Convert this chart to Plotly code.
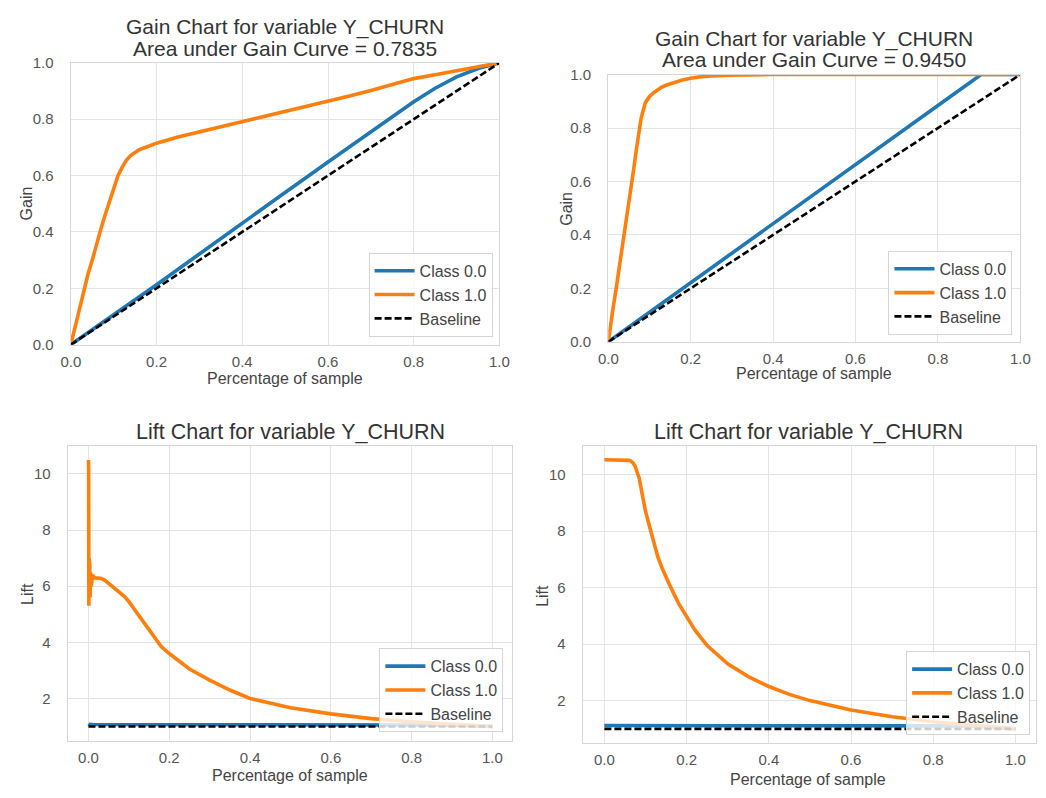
import plotly.graph_objects as go

W, H = 1046, 798

# ---------------- DATA ----------------
# Top-left gain chart (AUC 0.7835)
gainA_x0 = [0, 0.1, 0.2, 0.3, 0.4, 0.5, 0.6, 0.7, 0.8, 0.85, 0.9, 0.95, 1.0]
gainA_y0 = [0, 0.105, 0.213, 0.322, 0.432, 0.54, 0.648, 0.755, 0.862, 0.91, 0.95, 0.98, 1.0]
gainA_x1 = [0, 0.01, 0.02, 0.03, 0.04, 0.05, 0.06, 0.07, 0.08, 0.09, 0.10, 0.11, 0.12, 0.13,
            0.14, 0.15, 0.16, 0.18, 0.20, 0.25, 0.30, 0.35, 0.40, 0.45, 0.50, 0.55, 0.60,
            0.65, 0.70, 0.75, 0.80, 0.85, 0.90, 0.95, 1.0]
gainA_y1 = [0, 0.064, 0.127, 0.19, 0.25, 0.30, 0.36, 0.41, 0.46, 0.51, 0.56, 0.60, 0.63, 0.655,
            0.672, 0.683, 0.692, 0.703, 0.715, 0.737, 0.755, 0.772, 0.79, 0.808, 0.826, 0.843,
            0.862, 0.882, 0.902, 0.923, 0.944, 0.958, 0.973, 0.987, 1.0]

# Top-right gain chart (AUC 0.9450)
gainB_x0 = [0, 0.1, 0.2, 0.3, 0.4, 0.5, 0.6, 0.7, 0.8, 0.905, 0.95, 1.0]
gainB_y0 = [0, 0.11, 0.221, 0.332, 0.442, 0.553, 0.663, 0.774, 0.884, 1.0, 1.0, 1.0]
gainB_x1 = [0, 0.005, 0.01, 0.02, 0.03, 0.04, 0.05, 0.06, 0.07, 0.08, 0.09, 0.10, 0.11, 0.12,
            0.13, 0.14, 0.16, 0.18, 0.20, 0.22, 0.25, 0.30, 0.40, 0.60, 0.80, 1.0]
gainB_y1 = [0, 0.06, 0.11, 0.21, 0.31, 0.41, 0.52, 0.63, 0.74, 0.84, 0.895, 0.918, 0.932, 0.944,
            0.953, 0.96, 0.971, 0.98, 0.986, 0.991, 0.995, 0.998, 1.0, 1.0, 1.0, 1.0]

# Bottom-left lift chart
liftA_x0 = [0, 0.002, 0.01, 0.05, 0.2, 0.4, 0.6, 0.8, 0.9, 0.95, 1.0]
liftA_y0 = [1.1, 1.08, 1.07, 1.07, 1.07, 1.07, 1.07, 1.07, 1.05, 1.03, 1.0]
liftA_x1 = [0, 0.0005, 0.001, 0.0015, 0.002, 0.003, 0.004, 0.005, 0.007, 0.01, 0.015, 0.02,
            0.03, 0.04, 0.05, 0.06, 0.07, 0.08, 0.09, 0.10, 0.11, 0.12, 0.13, 0.14, 0.15, 0.16,
            0.18, 0.20, 0.25, 0.30, 0.35, 0.40, 0.45, 0.50, 0.60, 0.70, 0.80, 0.90, 1.0]
liftA_y1 = [10.5, 10.2, 5.3, 7.0, 5.5, 6.8, 5.6, 6.5, 6.0, 6.4, 6.3, 6.3,
            6.28, 6.22, 6.1, 5.98, 5.88, 5.76, 5.62, 5.45, 5.25, 5.05, 4.8, 4.6, 4.4, 4.2,
            3.85, 3.6, 3.05, 2.65, 2.3, 2.0, 1.82, 1.67, 1.45, 1.28, 1.17, 1.08, 1.0]

# Bottom-right lift chart
liftB_x0 = [0, 0.1, 0.3, 0.5, 0.7, 0.9, 0.95, 1.0]
liftB_y0 = [1.12, 1.11, 1.11, 1.11, 1.11, 1.105, 1.05, 1.0]
liftB_x1 = [0, 0.01, 0.02, 0.03, 0.04, 0.05, 0.06, 0.065, 0.07, 0.075, 0.08, 0.085, 0.09,
            0.10, 0.11, 0.12, 0.13, 0.14, 0.15, 0.16, 0.18, 0.20, 0.22, 0.25, 0.30, 0.35,
            0.40, 0.45, 0.50, 0.60, 0.70, 0.80, 0.90, 1.0]
liftB_y1 = [10.52, 10.52, 10.52, 10.52, 10.52, 10.52, 10.5, 10.47, 10.4, 10.28, 10.1, 9.85, 9.45,
            8.7, 8.15, 7.55, 7.08, 6.7, 6.35, 6.05, 5.45, 4.95, 4.5, 3.95, 3.3, 2.85,
            2.5, 2.22, 2.0, 1.67, 1.43, 1.25, 1.11, 1.0]

base_x = [0, 1]
gain_base_y = [0, 1]
lift_base_y = [1, 1]

class_names = ["Class 0.0", "Class 1.0", "Baseline"]
gain_titles = ["Gain Chart for variable Y_CHURN", "Area under Gain Curve = 0.7835",
               "Gain Chart for variable Y_CHURN", "Area under Gain Curve = 0.9450"]
lift_title = "Lift Chart for variable Y_CHURN"
xlabel = "Percentage of sample"

# ---------------- STYLE ----------------
BLUE = "#1f77b4"
ORANGE = "#ff7f0e"
FONT = "Liberation Sans, Arial, sans-serif"
GRID = "#e3e3e3"
EDGE = "#d6d6d6"


def px_x(p):
    return p / W


def px_y(p):
    return 1 - p / H


# plot boxes in pixels: (left, right, top, bottom)
boxes = {
    1: (62, 499, 55, 343),
    2: (610, 1030, 67, 340),
    3: (59, 512, 447, 748),
    4: (584, 1046, 447, 750),
}

fig = go.Figure()

panels = [
    (1, gainA_x0, gainA_y0, gainA_x1, gainA_y1, gain_base_y, "legend"),
    (2, gainB_x0, gainB_y0, gainB_x1, gainB_y1, gain_base_y, "legend2"),
    (3, liftA_x0, liftA_y0, liftA_x1, liftA_y1, lift_base_y, "legend3"),
    (4, liftB_x0, liftB_y0, liftB_x1, liftB_y1, lift_base_y, "legend4"),
]

for i, x0, y0, x1, y1, by, leg in panels:
    xa = "x" if i == 1 else f"x{i}"
    ya = "y" if i == 1 else f"y{i}"
    fig.add_trace(go.Scatter(x=x0, y=y0, mode="lines", name=class_names[0],
                             line=dict(color=BLUE, width=3.6), xaxis=xa, yaxis=ya, legend=leg))
    fig.add_trace(go.Scatter(x=x1, y=y1, mode="lines", name=class_names[1],
                             line=dict(color=ORANGE, width=3.6), xaxis=xa, yaxis=ya, legend=leg))
    fig.add_trace(go.Scatter(x=base_x, y=by, mode="lines", name=class_names[2],
                             line=dict(color="black", width=2.6, dash="7px,3px"),
                             xaxis=xa, yaxis=ya, legend=leg))

layout = dict(
    width=W, height=H, margin=dict(l=0, r=0, t=0, b=0),
    paper_bgcolor="white", plot_bgcolor="white",
    font=dict(family=FONT, color="#444"),
    showlegend=True,
)


def axis_common(tl):
    return dict(showgrid=True, gridcolor=GRID, gridwidth=1.4, zeroline=False,
                showline=True, linecolor=EDGE, linewidth=1.4, mirror=True,
                ticks="outside", ticklen=tl, tickcolor="rgba(0,0,0,0)",
                tickfont=dict(family=FONT, size=15, color="#555"))


xranges = {1: [0, 1], 2: [0, 1], 3: [-0.051, 1.049], 4: [-0.0525, 1.05]}
yranges = {1: [0, 1], 2: [0, 1], 3: [0.48, 10.98], 4: [0.5, 10.99]}

for i, (l, r, t, b) in boxes.items():
    xk = "xaxis" if i == 1 else f"xaxis{i}"
    yk = "yaxis" if i == 1 else f"yaxis{i}"
    ya = "y" if i == 1 else f"y{i}"
    xa = "x" if i == 1 else f"x{i}"
    xd = axis_common(3)
    xd.update(domain=[px_x(l), min(px_x(r), 1.0)], range=xranges[i], anchor=ya,
              tickmode="linear", tick0=0, dtick=0.2, tickformat=".1f")
    yd = axis_common(13)
    yd.update(domain=[px_y(b), px_y(t)], range=yranges[i], anchor=xa)
    if i <= 2:
        yd.update(tickmode="linear", tick0=0, dtick=0.2, tickformat=".1f")
    else:
        yd.update(tickmode="linear", tick0=0, dtick=2)
    layout[xk] = xd
    layout[yk] = yd

# legends
leg_pos = {
    "legend": (492, 335),
    "legend2": (1022, 333),
    "legend3": (503, 739),
    "legend4": (1040, 742),
}
for k, (rx, by) in leg_pos.items():
    layout[k] = dict(x=px_x(rx), y=px_y(by), xanchor="right", yanchor="bottom",
                     bgcolor="rgba(255,255,255,0.8)", bordercolor="#d5d5d5", borderwidth=1,
                     font=dict(family=FONT, size=16, color="#444"), itemwidth=40,
                     tracegroupgap=0)

annotations = []


def ann(text, x, y, size, color, angle=0):
    annotations.append(dict(text=text, x=px_x(x), y=px_y(y), xref="paper", yref="paper",
                            showarrow=False, xanchor="center", yanchor="middle",
                            textangle=angle, font=dict(family=FONT, size=size, color=color)))


# titles
ann(gain_titles[0], 280.5, 18, 21, "#333")
ann(gain_titles[1], 280.5, 40, 21, "#333")
ann(gain_titles[2], 820, 31, 21, "#333")
ann(gain_titles[3], 820, 52, 21, "#333")
ann(lift_title, 285.5, 432, 21.5, "#333")
ann(lift_title, 814, 432, 21.5, "#333")

# axis labels
ann(xlabel, 280.5, 378, 16, "#444")
ann("Gain", 17, 199, 16, "#444", -90)
ann(xlabel, 820, 372, 16, "#444")
ann("Gain", 567, 204, 16, "#444", -90)
ann(xlabel, 285.5, 783, 16, "#444")
ann("Lift", 18, 598, 16, "#444", -90)
ann(xlabel, 814, 787, 16, "#444")
ann("Lift", 543, 600, 16, "#444", -90)

layout["annotations"] = annotations
fig.update_layout(**layout)

fig.write_html("out.html")
